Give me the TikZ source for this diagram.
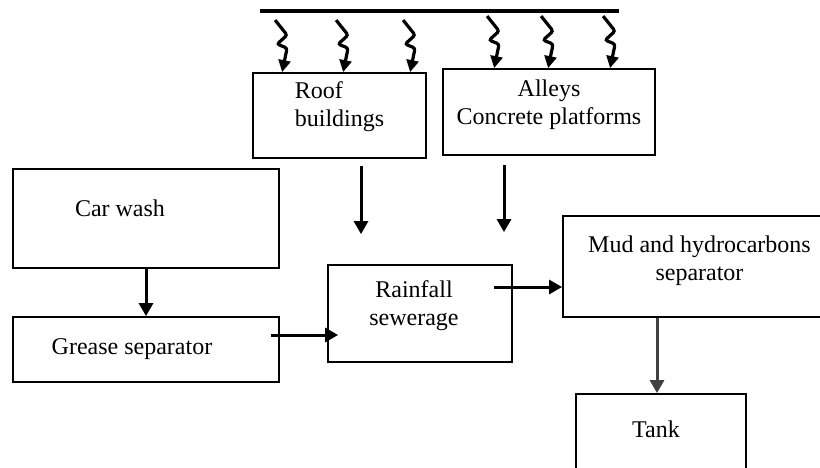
\documentclass[tikz,border=0pt]{standalone}
\usepackage{fontspec}
\setmainfont{Liberation Serif}
\usetikzlibrary{arrows.meta, positioning, calc}

\begin{document}
\begin{tikzpicture}[
				x=1pt, y=-1pt,
				font=\fontsize{24}{28}\selectfont,
				% Node Styles
				box/.style={draw, line width=1.8pt, rectangle, inner sep=0pt},
				txt/.style={inner sep=0pt, align=center},
				flow/.style={-{Triangle[length=13pt, width=14pt]}, line width=3pt},
				rain/.style={-{Triangle[length=12pt, width=12pt]}, line width=3.2pt, rounded corners=2.5pt},
				bar/.style={line width=4pt}
				]
				\clip (0,0) rectangle (820,467);
				
				%% ================= BOXES =================
				\node[box, minimum width=173pt, minimum height=85pt] (roof) at (339.5,115.5) {};
				\node[box, minimum width=212pt, minimum height=86pt] (alleys) at (549,112) {};
				\node[box, minimum width=266pt, minimum height=99pt] (carwash) at (146,218.5) {};
				\node[box, minimum width=266pt, minimum height=65pt] (grease) at (146,349.5) {};
				\node[box, minimum width=184pt, minimum height=97pt] (rainfall) at (420,313.5) {};
				\node[box, minimum width=277pt, minimum height=101pt] (mud) at (701.5,266.5) {};
				\node[box, minimum width=170pt, minimum height=96pt] (tank) at (661,442) {};
				
				% Texts
				\node[txt, align=left] (roofT) at ($(roof)+(0,-9)$) {Roof\\buildings};
				\node[txt] (alleysT) at ($(alleys)+(0,-7)$) {Alleys\\Concrete platforms};
				\node[txt] (carwashT) at ($(carwash)+(-26,-10)$) {Car wash};
				\node[txt] (greaseT) at ($(grease)+(-14,0)$) {Grease separator};
				\node[txt] (rainfallT) at ($(rainfall)+(-6,-8)$) {Rainfall\\sewerage};
				\node[txt] (mudT) at ($(mud)+(-2,-6)$) {Mud and hydrocarbons\\separator};
				\node[txt] (tankT) at ($(tank)+(-5,-13)$) {Tank};
				
				%% ================= RAIN =================
				\coordinate (barL) at (260,11);
				\coordinate (barR) at (619,11);
				\draw[bar] (barL) -- (barR);
				
				\foreach \d in {30,91,158}
					\draw[rain] ($(roof.north west)+(\d-7,-52)$) -- ++(12,15) -- ++(-10,9) -- ++(10,4) -- ($(roof.north west)+(\d,0)$);
				\foreach \d in {52,106,168}
					\draw[rain] ($(alleys.north west)+(\d-7,-52)$) -- ++(12,15) -- ++(-10,9) -- ++(10,4) -- ($(alleys.north west)+(\d,0)$);
				
				%% ================= EDGES =================
				\coordinate (f1) at ($(roof.south)+(21.5,7)$);
				\draw[flow] (f1) -- ($(f1 |- rainfall.north)+(0,-30)$);
				\coordinate (f2) at ($(alleys.south)+(-45,9)$);
				\draw[flow] (f2) -- ($(f2 |- rainfall.north)+(0,-32)$);
				
				\draw[flow] (carwash) -- (grease);
				
				\coordinate (g1) at ($(grease.east)+(-9,-14.5)$);
				\draw[flow] (g1) -- ($(g1 -| rainfall.west)+(11,0)$);
				
				\coordinate (r1) at ($(rainfall.east)+(-19,-26.5)$);
				\draw[flow] (r1) -- (r1 -| mud.west);
				
				\coordinate (t1) at ($(tank.north)+(-4,0)$);
				\draw[flow, black!75] (t1 |- mud.south) -- (t1);
				
			\end{tikzpicture}
\end{document}
